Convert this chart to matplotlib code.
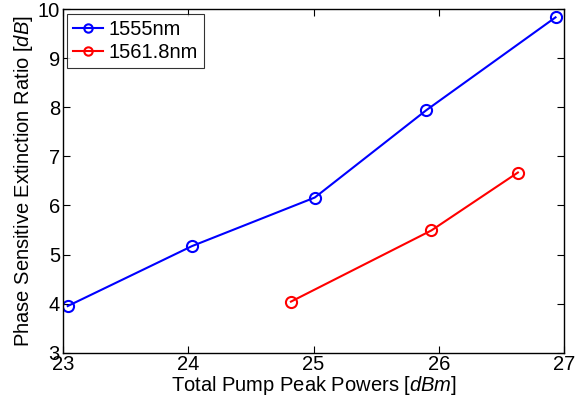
import matplotlib
matplotlib.use("Agg")
import matplotlib.pyplot as plt

plt.rcParams['font.family'] = ['Liberation Sans', 'DejaVu Sans']
plt.rcParams['mathtext.fontset'] = 'custom'
plt.rcParams['mathtext.rm'] = 'Liberation Sans'
plt.rcParams['mathtext.it'] = 'Liberation Sans:italic'

x_1555 = [23.04, 24.03, 25.01, 25.90, 26.93]
y_1555 = [3.95, 5.17, 6.16, 7.94, 9.83]
x_1561 = [24.82, 25.94, 26.63]
y_1561 = [4.04, 5.49, 6.67]
labels = ['1555nm', '1561.8nm']
xticks = [23, 24, 25, 26, 27]
yticks = [3, 4, 5, 6, 7, 8, 9, 10]

fig = plt.figure(figsize=(5.76, 4.04), dpi=100)
ax = fig.add_axes([62.7/576, 51.3/404, (564.3-62.7)/576, (352.7-9)/404])

ax.plot(x_1555, y_1555, '-o', color='#0000ff', lw=1.5, ms=8, mfc='none', mew=1.5, label=labels[0])
ax.plot(x_1561, y_1561, '-o', color='#ff0000', lw=1.5, ms=8, mfc='none', mew=1.5, label=labels[1])

ax.set_xlim(23, 27)
ax.set_ylim(3, 10)
ax.set_xticks(xticks)
ax.set_yticks(yticks)
ax.tick_params(direction='in', top=True, right=True, length=5, width=0.8, labelsize=14.5, pad=2)
for s in ax.spines.values():
    s.set_linewidth(1.0)
ax.set_xlabel('Total Pump Peak Powers [$\\mathit{dBm}$]', fontsize=14.5, labelpad=0)
ax.set_ylabel('Phase Sensitive Extinction Ratio [$\\mathit{dB}$]', fontsize=14.5, labelpad=2)
leg = ax.legend(loc='upper left', bbox_to_anchor=(0.009, 0.985), borderaxespad=0,
                fontsize=14.5, frameon=True, fancybox=False, edgecolor='black',
                handlelength=1.5, handletextpad=0.25, borderpad=0.3, labelspacing=0.2)
leg.get_frame().set_linewidth(0.8)
for h in leg.legend_handles:
    h.set_markersize(6)

fig.savefig('out.png', dpi=100)
